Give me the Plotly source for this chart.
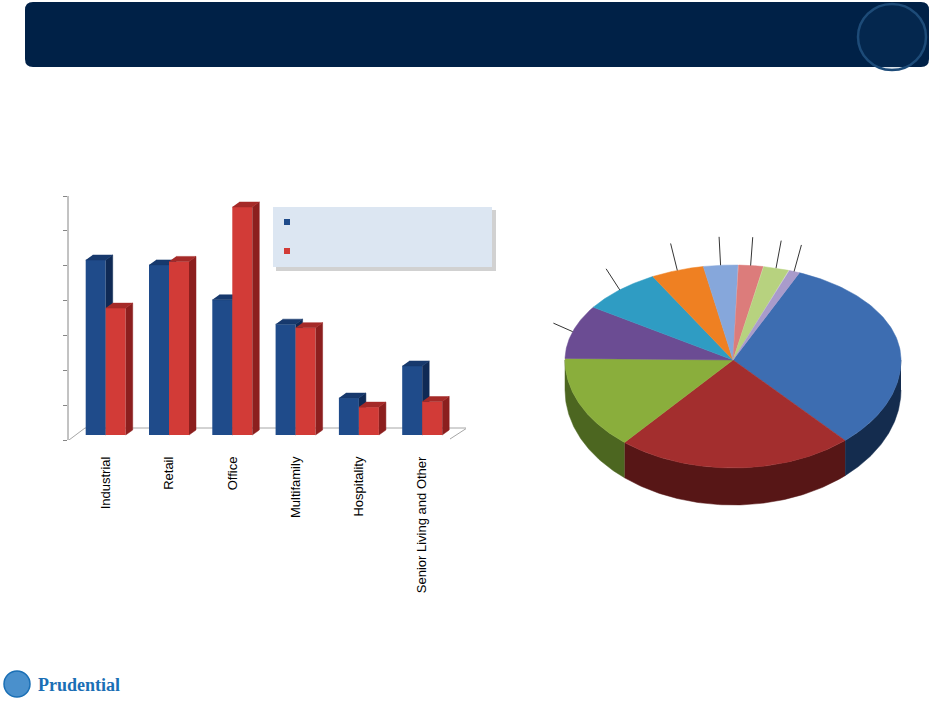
import numpy as np
import plotly.graph_objects as go

W, H = 931, 702

# ---- bar chart data (share of portfolio, %) ----
categories = ["Industrial", "Retail", "Office", "Multifamily", "Hospitality",
              "Senior Living and Other"]
series_a = [25.1, 24.4, 19.4, 15.9, 5.3, 9.9]
series_b = [18.2, 24.9, 32.7, 15.4, 4.0, 4.8]
y_ticks = [0, 5, 10, 15, 20, 25, 30, 35]

# ---- pie data (%), clockwise from the start angle ----
pie_values = [31.9, 22.8, 14.1, 9.1, 7.7, 5.1, 3.3, 2.4, 2.5, 1.1]
pie_colors = ["#3D6DB1", "#A32E2E", "#8AAE3C", "#6B4C93", "#2F9CC3",
              "#EF8022", "#86A7DB", "#DC7C7B", "#B7D27F", "#A99BCB"]
pie_side_colors = ["#142C4E", "#571616", "#4C6620", "#3A2852", "#18566C",
                   "#84440F", "#4A5E7C", "#7A4242", "#667847", "#5E5571"]
pie_start = 23.3
leader_from = 3  # slices from this index on have leader lines


def px(x):
    return x / W


def py(y):
    return 1 - y / H


# bar chart geometry (pixels)
BAR_L, BAR_R, BAR_T, BAR_B = 68, 466, 196, 440
CAT0, CAT_STEP = 105.7, 63.3
unit_y = (BAR_B - BAR_T) / 35.0
BW = 20 / CAT_STEP
DX = 7 / CAT_STEP
DY = 5 / unit_y
BASE = 5 / unit_y

pos = list(range(len(categories)))
fig = go.Figure()


def faces(lefts, vals):
    sx, sy, tx, ty = [], [], [], []
    for xl, v in zip(lefts, vals):
        xr = xl + BW
        yt = BASE + v
        sx += [xr, xr + DX, xr + DX, xr, None]
        sy += [BASE, BASE + DY, yt + DY, yt, None]
        tx += [xl, xr, xr + DX, xl + DX, None]
        ty += [yt, yt, yt + DY, yt + DY, None]
    return sx, sy, tx, ty


# floor of the 3D plot area
fx = [(69 - CAT0) / CAT_STEP, (85 - CAT0) / CAT_STEP,
      (467 - CAT0) / CAT_STEP, (450 - CAT0) / CAT_STEP]
fy = [0, 12 / unit_y, 12 / unit_y, 1 / unit_y]
fig.add_trace(go.Scatter(x=fx, y=fy, fill="toself", fillcolor="white", mode="lines",
                         line=dict(color="#A6A6A6", width=1), hoverinfo="skip",
                         showlegend=False, zorder=-1))

series = [
    (series_a, -BW, "#1F4B8A", "#0F2A55", "#17396D", 0),
    (series_b, 0.0, "#D23B37", "#8C1F1E", "#A52A28", 2),
]
for vals, off, front, side, top, z in series:
    fig.add_trace(go.Bar(x=pos, y=vals, base=BASE, offset=off, width=BW,
                         marker=dict(color=front, line=dict(width=0)),
                         showlegend=False, zorder=z))
    lefts = [p + off for p in pos]
    sx, sy, tx, ty = faces(lefts, vals)
    fig.add_trace(go.Scatter(x=sx, y=sy, fill="toself", fillcolor=side, mode="lines",
                             line=dict(color=side, width=0.5), hoverinfo="skip",
                             showlegend=False, zorder=z + 1))
    fig.add_trace(go.Scatter(x=tx, y=ty, fill="toself", fillcolor=top, mode="lines",
                             line=dict(color=top, width=0.5), hoverinfo="skip",
                             showlegend=False, zorder=z + 1))

# ---- 3D pie (pixel coordinates on its own axes) ----
CX, CY, RX = 733, 360, 168
RY_BACK, RY_FRONT, RY_BOTTOM, THICK = 95, 108, 115, 30


def rim(t):
    r = np.radians(t)
    c = np.cos(r)
    x = CX + RX * np.sin(r)
    y = np.where(c > 0, CY - RY_BACK * c, CY - RY_FRONT * c)
    return x, y


def rim_low(t):
    r = np.radians(t)
    return CX + RX * np.sin(r), CY + THICK - RY_BOTTOM * np.cos(r)


angles = np.cumsum([0] + pie_values) / sum(pie_values) * 360 + pie_start

# side walls first
for k in range(len(pie_values)):
    a0, a1 = angles[k], angles[k + 1]
    lo, hi = max(a0, 90), min(a1, 270)
    if hi <= lo:
        continue
    t = np.linspace(lo, hi, 80)
    xt, yt = rim(t)
    xb, yb = rim_low(t[::-1])
    fig.add_trace(go.Scatter(x=list(xt) + list(xb), y=list(yt) + list(yb),
                             fill="toself", fillcolor=pie_side_colors[k], mode="lines",
                             line=dict(color=pie_side_colors[k], width=0.5),
                             xaxis="x2", yaxis="y2", hoverinfo="skip", showlegend=False))

for k in range(len(pie_values)):
    t = np.linspace(angles[k], angles[k + 1], 90)
    xt, yt = rim(t)
    fig.add_trace(go.Scatter(x=[CX] + list(xt) + [CX], y=[CY] + list(yt) + [CY],
                             fill="toself", fillcolor=pie_colors[k], mode="lines",
                             line=dict(color=pie_colors[k], width=0.5),
                             xaxis="x2", yaxis="y2", hoverinfo="skip", showlegend=False))

# leader lines for the small slices (labels are blank)
lx, ly = [], []
for k in range(leader_from, len(pie_values)):
    m = (angles[k] + angles[k + 1]) / 2
    x0, y0 = rim(np.array([m]))
    r = np.radians(m)
    x1 = CX + 1.12 * RX * np.sin(r)
    y1 = CY - 1.3 * RY_BACK * np.cos(r)
    lx += [float(x0[0]), x1, None]
    ly += [float(y0[0]), y1, None]
fig.add_trace(go.Scatter(x=lx, y=ly, mode="lines", line=dict(color="black", width=0.8),
                         xaxis="x2", yaxis="y2", hoverinfo="skip", showlegend=False))

# ---- decorations ----
def rounded_rect(x0, y0, x1, y1, r):
    pts = (f"M{px(x0 + r)},{py(y0)} L{px(x1 - r)},{py(y0)} "
           f"Q{px(x1)},{py(y0)} {px(x1)},{py(y0 + r)} L{px(x1)},{py(y1 - r)} "
           f"Q{px(x1)},{py(y1)} {px(x1 - r)},{py(y1)} L{px(x0 + r)},{py(y1)} "
           f"Q{px(x0)},{py(y1)} {px(x0)},{py(y1 - r)} L{px(x0)},{py(y0 + r)} "
           f"Q{px(x0)},{py(y0)} {px(x0 + r)},{py(y0)} Z")
    return pts


shapes = [
    dict(type="path", xref="paper", yref="paper", path=rounded_rect(25, 2, 929, 67, 8),
         fillcolor="#002147", line=dict(width=0), layer="below"),
    dict(type="circle", xref="paper", yref="paper", x0=px(858), x1=px(926),
         y0=py(70), y1=py(4), line=dict(color="#1D4B78", width=2.5),
         fillcolor="rgba(29,75,120,0.15)"),
    # y axis line
    dict(type="line", xref="paper", yref="paper", x0=px(BAR_L), x1=px(BAR_L),
         y0=py(BAR_B), y1=py(BAR_T), line=dict(color="#868686", width=1)),
    # legend box with shadow
    dict(type="rect", xref="paper", yref="paper", x0=px(276), x1=px(496),
         y0=py(271), y1=py(210), fillcolor="rgba(0,0,0,0.18)", line=dict(width=0)),
    dict(type="rect", xref="paper", yref="paper", x0=px(273), x1=px(492),
         y0=py(267), y1=py(207), fillcolor="#DCE6F2", line=dict(width=0)),
    dict(type="rect", xref="paper", yref="paper", x0=px(284), x1=px(290),
         y0=py(225), y1=py(219), fillcolor="#1F4B8A", line=dict(width=0)),
    dict(type="rect", xref="paper", yref="paper", x0=px(284), x1=px(290),
         y0=py(254), y1=py(248), fillcolor="#D23B37", line=dict(width=0)),
    # logo mark
    dict(type="circle", xref="paper", yref="paper", x0=px(4), x1=px(30),
         y0=py(697), y1=py(671), fillcolor="#4A90CC", line=dict(color="#1A6FB5", width=1.5)),
]

fig.update_layout(
    width=W, height=H,
    margin=dict(l=0, r=0, t=0, b=0),
    paper_bgcolor="white", plot_bgcolor="rgba(0,0,0,0)",
    barmode="overlay",
    font=dict(family="Liberation Sans, Arial, sans-serif", size=13, color="black"),
    xaxis=dict(domain=[px(BAR_L), px(BAR_R)],
               range=[(BAR_L - CAT0) / CAT_STEP, (BAR_R - CAT0) / CAT_STEP],
               tickvals=pos, ticktext=categories, tickangle=-90, ticks="",
               ticklabelstandoff=13, showgrid=False, zeroline=False, showline=False,
               tickfont=dict(size=13, color="black")),
    yaxis=dict(domain=[py(BAR_B), py(BAR_T)], range=[0, 35], tickvals=y_ticks,
               showticklabels=False, ticks="outside", ticklen=4, tickcolor="#868686",
               showline=True, linecolor="#868686", linewidth=1,
               showgrid=False, zeroline=False),
    xaxis2=dict(domain=[px(540), 1], range=[540, W], visible=False, anchor="y2"),
    yaxis2=dict(domain=[py(525), py(225)], range=[525, 225], visible=False, anchor="x2"),
    shapes=shapes,
    annotations=[dict(text="<b>Prudential</b>", xref="paper", yref="paper",
                      x=px(36), y=py(685), xanchor="left", yanchor="middle",
                      showarrow=False,
                      font=dict(family="Liberation Serif, serif", size=18, color="#1A6FB5"))],
    hovermode=False,
)

fig.write_html("out.html", config={"displayModeBar": False},
               post_script="document.body.style.margin='0';document.body.style.overflow='hidden';")
